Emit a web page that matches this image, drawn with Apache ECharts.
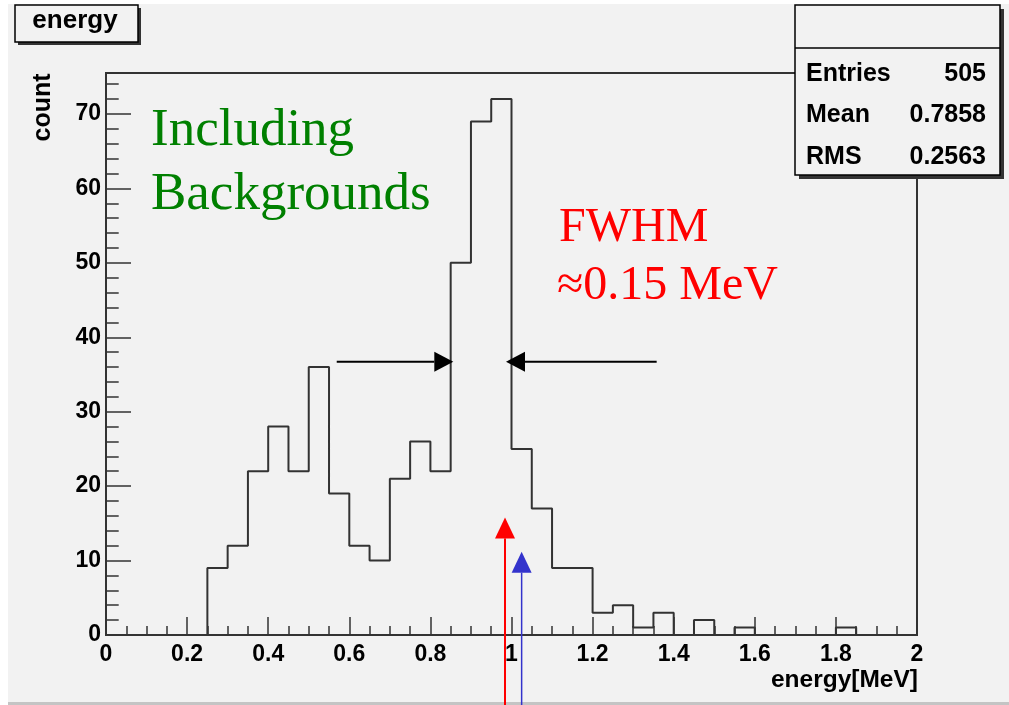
<!DOCTYPE html>
<html>
<head>
<meta charset="utf-8">
<script src="https://cdn.jsdelivr.net/npm/echarts@6/dist/echarts.min.js"></script>
<style>
html,body{margin:0;padding:0;background:#fff;}
#chart{width:1009px;height:705px;}
</style>
</head>
<body>
<div id="chart"></div>
<script>
// ---- data ----
const binStart = 0;
const binWidth = 0.05;
const counts = [0,0,0,0,0, 9,12,22,28,22, 36,19,12,10,21, 26,22,50,69,72, 25,17,9,9,3, 4,1,3,0,2, 0,1,0,0,0, 0,1,0,0,0];
const statsLabels = ['Entries', 'Mean', 'RMS'];
const statsValues = ['505', '0.7858', '0.2563'];
const histTitle = 'energy';
const xTitle = 'energy[MeV]';
const yTitle = 'count';
const greenText = ['Including', 'Backgrounds'];
const redText = ['FWHM', '\u22480.15 MeV'];
// arrows: [xFrom, yFrom, xTip, yTip] in data units
const fwhmArrows = [[0.569, 36.7, 0.8565, 36.7], [1.358, 36.7, 0.9864, 36.7]];
const redArrow = [[0.984, -9.6, 0.984, 15.8]];
const blueArrow = [[1.025, -9.6, 1.025, 11.2]];

const histPoints = counts.map((c, i) => [binStart + i * binWidth, c]);
histPoints.push([binStart + counts.length * binWidth, counts[counts.length - 1]]);

function arrowRenderer(color, width, headLen, headHalf) {
  return function (params, api) {
    const p1 = api.coord([api.value(0), api.value(1)]);
    const p2 = api.coord([api.value(2), api.value(3)]);
    const dx = p2[0] - p1[0], dy = p2[1] - p1[1];
    const L = Math.hypot(dx, dy);
    const ux = dx / L, uy = dy / L;
    const bx = p2[0] - ux * headLen, by = p2[1] - uy * headLen;
    const px = -uy, py = ux;
    return {
      type: 'group',
      children: [
        { type: 'line', shape: { x1: p1[0], y1: p1[1], x2: bx, y2: by }, style: { stroke: color, lineWidth: width } },
        { type: 'polygon', shape: { points: [[p2[0], p2[1]], [bx + px * headHalf, by + py * headHalf], [bx - px * headHalf, by - py * headHalf]] }, style: { fill: color } }
      ]
    };
  };
}

const axisFont = { color: '#000', fontSize: 23, fontWeight: 'bold', fontFamily: 'Liberation Sans' };
const tickColor = '#333';

const graphics = [
  // outer strips
  { type: 'rect', shape: { x: 0, y: 0, width: 1009, height: 4 }, style: { fill: '#ffffff' }, z: -10 },
  { type: 'rect', shape: { x: 0, y: 0, width: 8, height: 705 }, style: { fill: '#ffffff' }, z: -10 },
  { type: 'rect', shape: { x: 8, y: 702, width: 1001, height: 3 }, style: { fill: '#c4c4c4' }, z: -10 },
  // title box
  { type: 'rect', shape: { x: 18, y: 8, width: 123, height: 37 }, style: { fill: '#333' }, z: 50 },
  { type: 'rect', shape: { x: 15, y: 5, width: 123, height: 37 }, style: { fill: '#f2f2f2', stroke: '#000', lineWidth: 1.5 }, z: 51 },
  { type: 'text', x: 75, y: 21, style: { text: histTitle, fontSize: 26, fontWeight: 'bold', fontFamily: 'Liberation Sans', fill: '#000', align: 'center', verticalAlign: 'middle' }, z: 52 },
  // stats box
  { type: 'rect', shape: { x: 799, y: 9, width: 205, height: 170 }, style: { fill: '#333' }, z: 50 },
  { type: 'rect', shape: { x: 795, y: 5, width: 205, height: 170 }, style: { fill: '#f2f2f2', stroke: '#000', lineWidth: 1.5 }, z: 51 },
  { type: 'line', shape: { x1: 795, y1: 48, x2: 1000, y2: 48 }, style: { stroke: '#000', lineWidth: 1.5 }, z: 52 },
  // axis titles
  { type: 'text', x: 43, y: 107.5, rotation: Math.PI / 2, style: { text: yTitle, fontSize: 25, fontWeight: 'bold', fontFamily: 'Liberation Sans', fill: '#000', align: 'center', verticalAlign: 'middle' }, z: 52 },
  { type: 'text', x: 918, y: 680, style: { text: xTitle, fontSize: 24.5, fontWeight: 'bold', fontFamily: 'Liberation Sans', fill: '#000', align: 'right', verticalAlign: 'middle' }, z: 52 },
  // annotations
  { type: 'text', x: 151, y: 131.5, style: { text: greenText[0], fontSize: 53, fontFamily: 'Liberation Serif', fill: '#008000', align: 'left', verticalAlign: 'middle' }, z: 52 },
  { type: 'text', x: 151, y: 195, style: { text: greenText[1], fontSize: 53, fontFamily: 'Liberation Serif', fill: '#008000', align: 'left', verticalAlign: 'middle' }, z: 52 },
  { type: 'text', x: 559, y: 228.5, style: { text: redText[0], fontSize: 48, fontFamily: 'Liberation Serif', fill: '#ff0000', align: 'left', verticalAlign: 'middle' }, z: 52 },
  { type: 'text', x: 557, y: 286.5, style: { text: redText[1], fontSize: 48, fontFamily: 'Liberation Serif', fill: '#ff0000', align: 'left', verticalAlign: 'middle' }, z: 52 }
];
const statsY = [74.5, 115, 157.5];
statsLabels.forEach((lab, i) => {
  graphics.push({ type: 'text', x: 806, y: statsY[i], style: { text: lab, fontSize: 25, fontWeight: 'bold', fontFamily: 'Liberation Sans', fill: '#000', align: 'left', verticalAlign: 'middle' }, z: 53 });
  graphics.push({ type: 'text', x: 986, y: statsY[i], style: { text: statsValues[i], fontSize: 25, fontWeight: 'bold', fontFamily: 'Liberation Sans', fill: '#000', align: 'right', verticalAlign: 'middle' }, z: 53 });
});

const chart = echarts.init(document.getElementById('chart'), null, { renderer: 'canvas' });
chart.setOption({
  backgroundColor: '#f2f2f2',
  animation: false,
  grid: { left: 106, top: 73, width: 811, height: 562, show: true, borderColor: '#333', borderWidth: 2, backgroundColor: 'transparent', containLabel: false },
  xAxis: {
    type: 'value', min: 0, max: 2, interval: 0.2,
    axisLine: { show: true, onZero: false, lineStyle: { color: tickColor, width: 2 } },
    axisTick: { show: true, inside: true, length: 18, lineStyle: { color: tickColor, width: 1.5 } },
    minorTick: { show: true, splitNumber: 4, length: 9, lineStyle: { color: tickColor, width: 1.5 } },
    splitLine: { show: false }, minorSplitLine: { show: false },
    axisLabel: Object.assign({ margin: 8 }, axisFont)
  },
  yAxis: [
    {
      type: 'value', min: 0, max: 75.5, interval: 10, position: 'left',
      axisLine: { show: true, onZero: false, lineStyle: { color: tickColor, width: 2 } },
      axisTick: { show: true, inside: true, length: 25, lineStyle: { color: tickColor, width: 1.5 } },
      splitLine: { show: false },
      axisLabel: Object.assign({ margin: 5, showMaxLabel: false, padding: [6, 0, 0, 0] }, axisFont)
    },
    {
      type: 'value', min: 0, max: 75.5, interval: 2, position: 'left', offset: 0,
      axisLine: { show: false },
      axisTick: { show: true, inside: true, length: 12.7, lineStyle: { color: tickColor, width: 1.5 } },
      splitLine: { show: false },
      axisLabel: { show: false }
    }
  ],
  series: [
    {
      type: 'line', step: 'end', data: histPoints, symbol: 'none', clip: false,
      lineStyle: { color: '#333', width: 2 }, z: 3
    },
    {
      type: 'custom', data: fwhmArrows, renderItem: arrowRenderer('#000', 2, 19, 10),
      encode: { x: [0, 2], y: [1, 3] }, clip: false, z: 4
    },
    {
      type: 'custom', data: redArrow, renderItem: arrowRenderer('#ff0000', 2, 21, 10),
      encode: { x: [0, 2], y: [1, 3] }, clip: false, z: 4
    },
    {
      type: 'custom', data: blueArrow, renderItem: arrowRenderer('#3333cc', 1.5, 21, 10),
      encode: { x: [0, 2], y: [1, 3] }, clip: false, z: 4
    }
  ],
  graphic: graphics
});
</script>
</body>
</html>
